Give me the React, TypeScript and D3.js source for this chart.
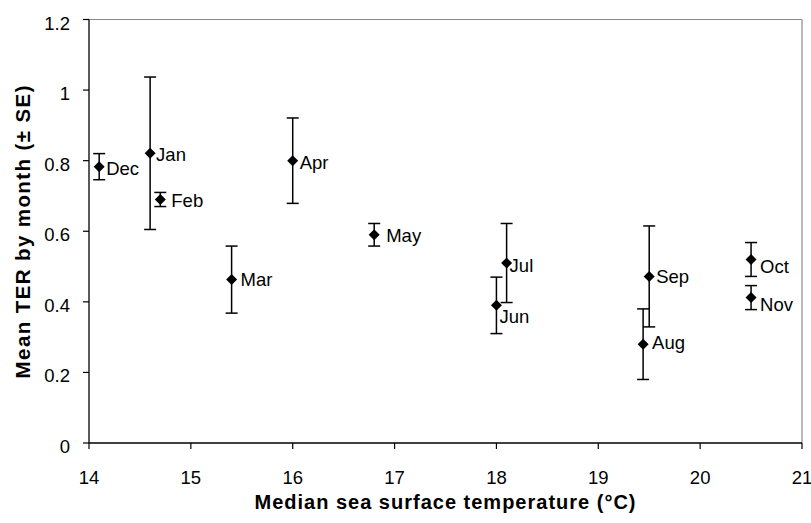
import React from "react";
import * as d3 from "d3";

const months = ["Dec", "Jan", "Feb", "Mar", "Apr", "May", "Jun", "Jul", "Aug", "Sep", "Oct", "Nov"];
const sst = [14.1, 14.6, 14.7, 15.4, 16.0, 16.8, 18.0, 18.1, 19.44, 19.5, 20.5, 20.5];
const meanTER = [0.783, 0.821, 0.69, 0.463, 0.8, 0.59, 0.39, 0.51, 0.28, 0.472, 0.52, 0.412];
const se = [0.037, 0.216, 0.02, 0.095, 0.121, 0.032, 0.08, 0.112, 0.1, 0.143, 0.048, 0.034];
const xTicks = [14, 15, 16, 17, 18, 19, 20, 21];
const yTicks = [0, 0.2, 0.4, 0.6, 0.8, 1, 1.2];
// label placement offsets (px) relative to marker
const labelDx = [7, 6, 11, 9, 7, 12, 3, 3, 9, 7, 9, 9];
const labelDy = [2, 1, 1, 0, 2, 1, 11, 2, -2, 0, 7, 7];

const W = 811;
const H = 523;
const left = 89;
const right = 802;
const top = 19.5;
const bottom = 443;
const font = "'Liberation Sans', Arial, Helvetica, sans-serif";
const fs = 18.5;

export default function App() {
  const x = d3.scaleLinear().domain([14, 21]).range([left, right]);
  const y = d3.scaleLinear().domain([0, 1.2]).range([bottom, top]);
  const diamond = (cx: number, cy: number, r: number) =>
    `M${cx},${cy - r}L${cx + r},${cy}L${cx},${cy + r}L${cx - r},${cy}Z`;
  const cap = 6;

  return (
    <svg
      width={W}
      height={H}
      style={{ position: "absolute", left: 0, top: 0, background: "#fff" }}
      fontFamily={font}
    >
      <rect x={0} y={0} width={W} height={H} fill="#fff" />
      {/* plot frame top/right */}
      <line x1={left} x2={right} y1={top} y2={top} stroke="#8a8a8a" strokeWidth={1.2} />
      <line x1={right} x2={right} y1={top} y2={bottom} stroke="#8a8a8a" strokeWidth={1.2} />
      {/* axes */}
      <line x1={left} x2={left} y1={top} y2={bottom} stroke="#000" strokeWidth={1.3} />
      <line x1={left} x2={right} y1={bottom} y2={bottom} stroke="#000" strokeWidth={1.3} />
      {yTicks.map((t) => (
        <g key={"y" + t}>
          <line x1={left - 6} x2={left} y1={y(t)} y2={y(t)} stroke="#000" strokeWidth={1.2} />
          <text x={70} y={y(t) + 10} textAnchor="end" fontSize={fs} fill="#000">
            {String(t)}
          </text>
        </g>
      ))}
      {xTicks.map((t) => (
        <g key={"x" + t}>
          <line x1={x(t)} x2={x(t)} y1={bottom} y2={bottom + 6} stroke="#000" strokeWidth={1.2} />
          <text x={x(t)} y={484} textAnchor="middle" fontSize={fs} fill="#000">
            {String(t)}
          </text>
        </g>
      ))}
      <text
        x={(left + right) / 2}
        y={509}
        textAnchor="middle"
        fontSize={20}
        fontWeight="bold"
        letterSpacing={1}
        fill="#000"
      >
        Median sea surface temperature (°C)
      </text>
      <text
        transform={`translate(30,${(top + bottom) / 2}) rotate(-90)`}
        textAnchor="middle"
        fontSize={20.5}
        fontWeight="bold"
        letterSpacing={1.4}
        fill="#000"
      >
        Mean TER by month (± SE)
      </text>
      {months.map((m, i) => {
        const cx = x(sst[i]);
        const cy = y(meanTER[i]);
        const yHi = y(meanTER[i] + se[i]);
        const yLo = y(meanTER[i] - se[i]);
        return (
          <g key={m}>
            <line x1={cx} x2={cx} y1={yHi} y2={yLo} stroke="#000" strokeWidth={1.5} />
            <line x1={cx - cap} x2={cx + cap} y1={yHi} y2={yHi} stroke="#000" strokeWidth={1.5} />
            <line x1={cx - cap} x2={cx + cap} y1={yLo} y2={yLo} stroke="#000" strokeWidth={1.5} />
            <path d={diamond(cx, cy, 5.5)} fill="#000" />
            <text
              x={cx + labelDx[i]}
              y={cy + labelDy[i] + fs * 0.358}
              fontSize={fs}
              fill="#000"
            >
              {m}
            </text>
          </g>
        );
      })}
    </svg>
  );
}
